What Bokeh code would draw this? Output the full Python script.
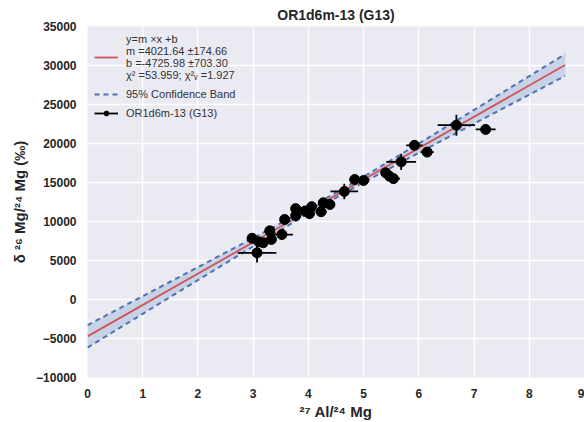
from bokeh.plotting import figure
from bokeh.models import Range1d, Legend, LegendItem, ColumnDataSource, FixedTicker
from bokeh.embed import file_html
from bokeh.resources import INLINE

# measured data points (27Al/24Mg, delta26Mg) with errors
al_mg = [2.98, 3.07, 3.10, 3.18, 3.30, 3.33, 3.52, 3.57, 3.77, 3.77, 3.94, 4.02, 4.06,
         4.23, 4.27, 4.39, 4.65, 4.84, 5.00, 5.40, 5.47, 5.54, 5.68, 5.92, 6.15, 6.68, 7.21]
d26mg = [7850, 5990, 7400, 7270, 8800, 7700, 8330, 10260, 11650, 10750, 11350, 11000, 11900,
         11250, 12400, 12180, 13850, 15380, 15260, 16240, 15800, 15500, 17650, 19770, 18900, 22350, 21800]
x_err = [0.08, 0.35, 0.08, 0.08, 0.08, 0.08, 0.20, 0.08, 0.08, 0.08, 0.08, 0.08, 0.08,
         0.10, 0.08, 0.08, 0.25, 0.10, 0.10, 0.08, 0.08, 0.12, 0.27, 0.15, 0.12, 0.34, 0.18]
y_err = [400, 1250, 400, 400, 500, 400, 400, 400, 400, 400, 400, 400, 600,
         400, 400, 400, 1000, 400, 400, 400, 400, 400, 1050, 400, 400, 1350, 500]

# fit line end points
fit_x = [0.0, 8.65]
fit_y = [-4726, 30061]

# 95% confidence band
band_x = [0, 1, 2, 3, 4, 5, 6, 7, 8, 8.65]
band_upper = [-3286, 425, 4141, 7878, 11687, 15738, 19997, 24309, 28637, 31454]
band_lower = [-6166, -1833, 2493, 6800, 11035, 15026, 18811, 22541, 26257, 28668]

x_ticks = [0, 1, 2, 3, 4, 5, 6, 7, 8, 9]
y_ticks = [-10000, -5000, 0, 5000, 10000, 15000, 20000, 25000, 30000, 35000]

FONT = "Liberation Sans"
BG = "#EAEAF2"

p = figure(width=584, height=422, output_backend="svg", toolbar_location=None,
           x_range=Range1d(0, 9), y_range=Range1d(-10000, 35000),
           min_border_left=87, min_border_right=0, min_border_top=26, min_border_bottom=44)
p.background_fill_color = BG
p.border_fill_color = "white"
p.outline_line_color = None

p.title.text = "OR1d6m-13 (G13)"
p.title.align = "center"
p.title.text_font = FONT
p.title.text_font_size = "14px"
p.title.text_font_style = "bold"
p.title.text_color = "#262626"
p.title.standoff = 7

for ax in (p.xaxis[0], p.yaxis[0]):
    ax.axis_line_color = None
    ax.major_tick_line_color = None
    ax.minor_tick_line_color = None
    ax.major_label_text_font = FONT
    ax.major_label_text_font_size = "12px"
    ax.major_label_text_font_style = "bold"
    ax.major_label_text_color = "#262626"
    ax.axis_label_text_font = FONT
    ax.axis_label_text_font_size = "15px"
    ax.axis_label_text_font_style = "bold"
    ax.axis_label_text_color = "#262626"

p.xaxis.ticker = FixedTicker(ticks=x_ticks)
p.yaxis.ticker = FixedTicker(ticks=y_ticks)
p.yaxis.major_label_overrides = {t: str(t).replace("-", "\u2212") for t in y_ticks}
p.xaxis.major_label_standoff = 5
p.yaxis.major_label_standoff = 5
p.xaxis.axis_label = "\u00b2\u2077 Al/\u00b2\u2074 Mg"
p.yaxis.axis_label = "\u03b4 \u00b2\u2076 Mg/\u00b2\u2074 Mg (\u2030)"
p.xaxis.axis_label_standoff = 2
p.yaxis.axis_label_standoff = 5

p.xgrid.grid_line_color = "white"
p.ygrid.grid_line_color = "white"
p.xgrid.grid_line_width = 1.5
p.ygrid.grid_line_width = 1.5

band = ColumnDataSource(dict(x=band_x, up=band_upper, lo=band_lower))
p.varea(x="x", y1="lo", y2="up", source=band, fill_color="#A9BEDD", fill_alpha=0.55)
up_r = p.line("x", "up", source=band, line_color="#4C72B0", line_width=2, line_dash="5 4")
p.line("x", "lo", source=band, line_color="#4C72B0", line_width=2, line_dash="5 4")
fit_r = p.line(fit_x, fit_y, line_color="#D0545B", line_width=1.8)

src = ColumnDataSource(dict(x=al_mg, y=d26mg,
                            x0=[a - e for a, e in zip(al_mg, x_err)],
                            x1=[a + e for a, e in zip(al_mg, x_err)],
                            y0=[a - e for a, e in zip(d26mg, y_err)],
                            y1=[a + e for a, e in zip(d26mg, y_err)]))
xe = p.segment(x0="x0", y0="y", x1="x1", y1="y", source=src, line_color="black", line_width=1.8)
ye = p.segment(x0="x", y0="y0", x1="x", y1="y1", source=src, line_color="black", line_width=1.8)
pts = p.scatter("x", "y", source=src, size=10, fill_color="black", line_color="black")

legend = Legend(items=[
    LegendItem(label="y=m \u00d7x +b\nm =4021.64 \u00b1174.66\nb =-4725.98 \u00b1703.30\n\u03c7\u00b2 =53.959; \u03c7\u00b2\u1d65 =1.927",
               renderers=[fit_r]),
    LegendItem(label="95% Confidence Band", renderers=[up_r]),
    LegendItem(label="OR1d6m-13 (G13)", renderers=[xe, pts]),
], location="top_left")
legend.background_fill_alpha = 0
legend.border_line_color = None
legend.label_text_font = FONT
legend.label_text_font_size = "11px"
legend.label_text_color = "#333333"
legend.label_text_line_height = 1.1
legend.glyph_width = 24
legend.glyph_height = 12
legend.label_height = 12
legend.label_standoff = 8
legend.spacing = 7
legend.padding = 9
legend.margin = 7
p.add_layout(legend)

open("out.html", "w").write(file_html(p, INLINE))
